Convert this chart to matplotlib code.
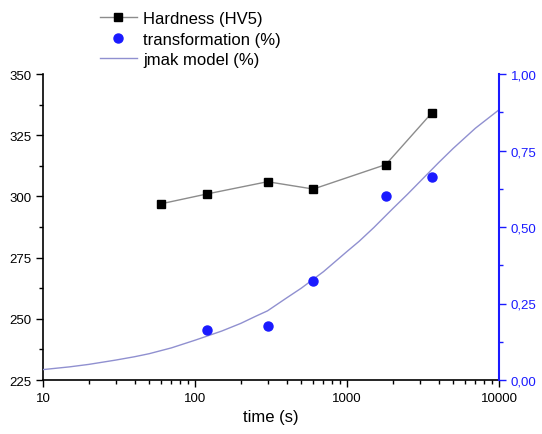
import matplotlib
matplotlib.use("Agg")
import matplotlib.pyplot as plt
from matplotlib.ticker import FixedLocator, FuncFormatter, NullFormatter, LogLocator, MultipleLocator

plt.rcParams['font.family'] = ['Liberation Sans', 'DejaVu Sans']

# Hardness measurements (left axis)
t_hard = [60, 120, 300, 600, 1800, 3600]
hardness = [297, 301, 306, 303, 313, 334]

# Measured transformed fraction (right axis)
t_trans = [120, 300, 600, 1800, 3600]
transformation = [0.163, 0.177, 0.325, 0.602, 0.662]

# JMAK model curve
t_jmak = [10, 15, 20, 30, 40, 50, 70, 100, 150, 200, 250, 300, 400, 500, 700,
          1000, 1200, 1500, 2000, 2500, 3000, 4000, 5000, 7000, 10000]
jmak = [0.034, 0.043, 0.051, 0.065, 0.076, 0.086, 0.105, 0.13, 0.16, 0.185,
        0.208, 0.226, 0.268, 0.30, 0.354, 0.42, 0.453, 0.498, 0.56, 0.607,
        0.647, 0.71, 0.757, 0.823, 0.883]

blue = '#1a1aff'

fig = plt.figure(figsize=(5.42, 4.35), dpi=100)
ax = fig.add_axes([43 / 542, 1 - 381 / 435, 456 / 542, 306 / 435])
ax2 = ax.twinx()

h1, = ax.plot(t_hard, hardness, color='#8c8c8c', lw=1.0, marker='s',
              markersize=6, markerfacecolor='black', markeredgecolor='black',
              label='Hardness (HV5)', zorder=3)
h2, = ax2.plot(t_trans, transformation, ls='none', marker='o', markersize=6.5,
               color=blue, label='transformation (%)', zorder=3)
h3, = ax2.plot(t_jmak, jmak, color='#9090d0', lw=1.0, label='jmak model (%)')

ax.set_xscale('log')
ax.set_xlim(10, 10000)
ax.set_ylim(225, 350)
ax2.set_ylim(0, 1)

ax.xaxis.set_major_locator(FixedLocator([10, 100, 1000, 10000]))
ax.xaxis.set_major_formatter(FuncFormatter(lambda v, p: f"{v:.0f}"))
ax.xaxis.set_minor_locator(LogLocator(base=10, subs=range(2, 10)))
ax.xaxis.set_minor_formatter(NullFormatter())

ax.yaxis.set_major_locator(MultipleLocator(25))
ax.yaxis.set_minor_locator(MultipleLocator(12.5))
ax2.yaxis.set_major_locator(MultipleLocator(0.25))
ax2.yaxis.set_minor_locator(MultipleLocator(0.125))
ax2.yaxis.set_major_formatter(FuncFormatter(lambda v, p: f"{v:.2f}".replace('.', ',')))

for a in (ax, ax2):
    a.spines['top'].set_visible(False)
ax.spines['right'].set_visible(False)
ax2.spines['left'].set_visible(False)
ax2.spines['bottom'].set_visible(False)
ax2.spines['right'].set_color(blue)
ax2.spines['right'].set_linewidth(1.5)
ax.spines['left'].set_linewidth(1.2)
ax.spines['bottom'].set_linewidth(1.2)

ax.tick_params(which='major', direction='out', length=5, width=1, labelsize=9.5)
ax.tick_params(which='minor', direction='out', length=3, width=1)
ax2.tick_params(which='major', direction='out', length=5, width=1, colors=blue, labelsize=9.5)
ax2.tick_params(which='minor', direction='out', length=3, width=1, colors=blue)

ax.set_xlabel('time (s)', fontsize=12, labelpad=4)

fig.legend(handles=[h1, h2, h3], loc='upper left', bbox_to_anchor=(100 / 542, 0.972),
           frameon=False, fontsize=12, borderpad=0, borderaxespad=0,
           handlelength=2.2, handletextpad=0.4, labelspacing=0.32)

fig.savefig('out.png', dpi=100)
